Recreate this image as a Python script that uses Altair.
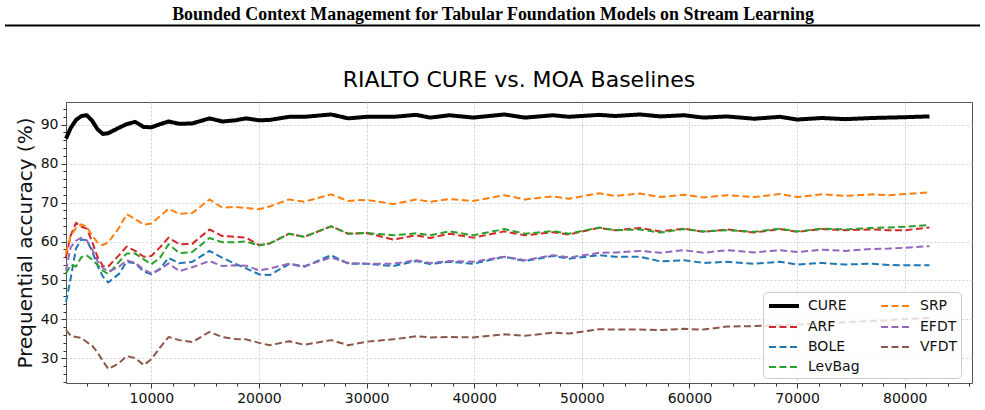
import altair as alt
import pandas as pd

# Stream position (number of instances processed)
steps = [2070, 2500, 3000, 3500, 4000, 4500, 5000, 5500, 6000, 7000,
         7700, 8500, 9300, 10000, 10800, 11600, 12600, 13800, 15400, 16600,
         17800, 18800, 20000, 21000, 22800, 24200, 26700, 28300, 30000, 32500,
         34600, 35900, 37700, 39900, 42800, 44700, 47300, 48800, 51600, 53100,
         55400, 57300, 59500, 61300, 63500, 66000, 68400, 70000, 72300, 74500,
         77000, 78500, 80000, 82300]

# Prequential accuracy (%) per learner
cure = [86.4, 89.1, 91.2, 92.2, 92.4, 91.0, 88.8, 87.6, 87.8, 89.2,
        90.1, 90.7, 89.4, 89.3, 90.1, 90.8, 90.2, 90.3, 91.6, 90.8,
        91.1, 91.6, 91.1, 91.2, 92.0, 92.0, 92.6, 91.6, 92.0, 92.0,
        92.5, 91.8, 92.4, 91.8, 92.6, 91.8, 92.4, 92.0, 92.5, 92.2,
        92.6, 92.1, 92.4, 91.8, 92.1, 91.5, 92.0, 91.3, 91.7, 91.4,
        91.7, 91.8, 91.9, 92.1]
srp = [57.0, 61.5, 63.5, 64.4, 63.8, 61.5, 59.8, 59.1, 59.8, 63.5,
       67.0, 65.8, 64.3, 64.6, 66.5, 68.4, 67.1, 67.3, 70.8, 68.7,
       68.9, 68.6, 68.3, 69.0, 70.8, 70.2, 72.1, 70.4, 70.7, 69.6,
       70.8, 70.2, 70.9, 70.4, 71.9, 70.8, 71.6, 71.0, 72.4, 71.7,
       72.3, 71.4, 72.0, 71.3, 71.9, 71.4, 72.2, 71.4, 72.1, 71.7,
       72.1, 71.9, 72.2, 72.6]
arf = [56.0, 61.5, 64.8, 63.8, 63.3, 60.0, 56.0, 53.7, 53.6, 56.5,
       58.7, 57.6, 56.1, 56.3, 58.5, 61.0, 59.3, 59.4, 63.1, 61.4,
       61.2, 61.0, 59.1, 59.5, 62.0, 61.2, 63.9, 62.0, 62.2, 60.5,
       61.6, 60.9, 62.0, 61.0, 62.6, 61.6, 62.4, 61.8, 63.5, 62.9,
       63.5, 62.6, 63.3, 62.5, 63.1, 62.3, 63.2, 62.5, 63.2, 62.9,
       63.1, 62.9, 62.9, 63.6]
levbag = [51.8, 54.0, 53.6, 56.0, 56.4, 55.4, 54.0, 52.5, 51.7, 54.8,
          56.9, 56.9, 55.4, 54.2, 55.8, 59.3, 57.0, 57.3, 60.9, 59.8,
          59.8, 60.0, 59.0, 59.5, 62.0, 61.2, 63.9, 62.0, 62.2, 61.6,
          62.1, 61.6, 62.6, 61.6, 63.2, 62.0, 62.7, 62.0, 63.6, 62.9,
          63.1, 62.3, 63.2, 62.6, 62.9, 62.5, 63.3, 62.6, 63.3, 63.1,
          63.5, 63.6, 63.8, 64.2]
bole = [44.5, 50.5, 58.2, 60.5, 60.3, 57.5, 53.8, 51.0, 49.5, 51.7,
        54.8, 54.4, 52.3, 51.6, 53.0, 55.8, 54.4, 54.8, 57.6, 55.8,
        54.3, 53.1, 51.6, 51.4, 54.2, 53.5, 56.5, 54.3, 54.3, 53.7,
        55.0, 54.2, 54.8, 54.3, 56.1, 55.0, 56.3, 55.6, 56.5, 56.1,
        56.1, 54.9, 55.2, 54.5, 54.8, 54.3, 54.8, 54.1, 54.5, 54.1,
        54.3, 54.0, 53.9, 53.9]
efdt = [52.6, 58.5, 60.2, 61.0, 60.3, 58.0, 55.0, 53.2, 52.3, 53.5,
        55.2, 54.5, 52.8, 51.8, 52.8, 54.4, 52.4, 53.4, 55.0, 53.7,
        53.9, 53.8, 52.6, 53.1, 54.3, 53.7, 55.9, 54.5, 54.3, 54.3,
        55.2, 54.5, 55.0, 54.8, 56.1, 55.2, 56.5, 55.9, 57.1, 57.2,
        57.6, 57.1, 57.8, 57.1, 57.8, 57.2, 57.8, 57.3, 57.9, 57.6,
        58.1, 58.2, 58.4, 58.8]
vfdt = [37.3, 35.8, 35.5, 35.3, 34.2, 33.3, 31.5, 29.3, 27.3, 28.8,
        30.6, 30.1, 28.3, 29.8, 32.8, 35.5, 34.7, 34.2, 36.8, 35.5,
        35.0, 34.9, 34.0, 33.4, 34.4, 33.5, 34.7, 33.4, 34.3, 34.9,
        35.7, 35.4, 35.5, 35.4, 36.2, 35.8, 36.6, 36.4, 37.5, 37.4,
        37.4, 37.3, 37.6, 37.4, 38.2, 38.3, 38.5, 38.7, 39.0, 39.3,
        39.6, 39.8, 40.1, 40.4]

models = ["CURE", "ARF", "BOLE", "LevBag", "SRP", "EFDT", "VFDT"]
series = {"CURE": cure, "ARF": arf, "BOLE": bole, "LevBag": levbag,
          "SRP": srp, "EFDT": efdt, "VFDT": vfdt}
colors = {"CURE": "#000000", "ARF": "#d62728", "BOLE": "#1f77b4",
          "LevBag": "#2ca02c", "SRP": "#ff7f0e", "EFDT": "#9467bd",
          "VFDT": "#8c564b"}
dash = [7, 3.5]

rows = []
for name in models:
    for s, v in zip(steps, series[name]):
        rows.append({"model": name, "step": s, "acc": v})
df = pd.DataFrame(rows)

header_text = "Bounded Context Management for Tabular Foundation Models on Stream Learning"
title_text = "RIALTO CURE vs. MOA Baselines"
text_df = pd.DataFrame({"header": [header_text], "title": [title_text]})

x_major = list(range(10000, 80001, 10000))
x_minor = [v for v in range(4000, 86001, 2000) if v % 10000 != 0]
y_major = list(range(30, 91, 10))
y_minor = [v for v in range(24, 96, 2) if v % 10 != 0]

x_scale = alt.Scale(domain=[2070, 86250], nice=False, zero=False)
y_scale = alt.Scale(domain=[23.7, 95.8], nice=False, zero=False)

# Legend handle: a 30px stroke drawn from a 16px layout symbol
legend = alt.Legend(
    title=None, orient="none", legendX=697, legendY=190, columns=2,
    symbolType="M-1,0H2.75", symbolSize=256, labelFontSize=14,
    labelFont="DejaVu Sans", labelColor="#111111", labelOffset=21,
    fillColor="rgba(255,255,255,0.8)", strokeColor="#cccccc",
    cornerRadius=4, padding=4, rowPadding=4, columnPadding=17, zindex=1,
)

lines = alt.Chart(df).mark_line(strokeJoin="round").encode(
    x=alt.X("step:Q", scale=x_scale,
            axis=alt.Axis(values=x_major, format="d", title=None, orient="bottom",
                          grid=True, gridDash=[2, 2], gridColor="#d0d0d0",
                          tickSize=5, tickColor="#333333", domain=False,
                          labelFontSize=14, labelPadding=3)),
    y=alt.Y("acc:Q", scale=y_scale,
            axis=alt.Axis(values=y_major, title="Prequential accuracy (%)",
                          orient="left", grid=True, gridDash=[2, 2],
                          gridColor="#d0d0d0", tickSize=5, tickColor="#333333",
                          domain=False, labelFontSize=14, labelPadding=3,
                          titleFontSize=20, titleFontWeight="normal",
                          titlePadding=5)),
    color=alt.Color("model:N", scale=alt.Scale(domain=models,
                    range=[colors[m] for m in models]), legend=legend),
    strokeDash=alt.StrokeDash("model:N", scale=alt.Scale(domain=models,
                              range=[[1, 0] if m == "CURE" else dash for m in models]),
                              legend=legend),
    strokeWidth=alt.StrokeWidth("model:N", scale=alt.Scale(type="ordinal", domain=models,
                                range=[4 if m == "CURE" else 2 for m in models]),
                                legend=legend),
)

# Minor ticks on the bottom and left axes
minor = alt.Chart(df).mark_point(opacity=0, size=1).encode(
    x=alt.X("step:Q", scale=x_scale,
            axis=alt.Axis(values=x_minor, labels=False, title=None, grid=False,
                          domain=False, tickSize=3, tickColor="#333333",
                          orient="bottom")),
    y=alt.Y("acc:Q", scale=y_scale,
            axis=alt.Axis(values=y_minor, labels=False, title=None, grid=False,
                          domain=False, tickSize=3, tickColor="#333333",
                          orient="left")),
)

# Page header above the figure
header = alt.Chart(text_df).mark_text(
    font="Liberation Serif", fontWeight="bold", fontSize=17.9, color="black",
    baseline="middle", align="center",
).encode(text="header:N", x=alt.value(427), y=alt.value(-87.5))

header_rule = alt.Chart(text_df).mark_rule(color="black", strokeWidth=2).encode(
    x=alt.value(-61), x2=alt.value(914), y=alt.value(-76.5)
)

# Figure title centred over the plot area
title = alt.Chart(text_df).mark_text(
    font="DejaVu Sans", fontSize=22, color="black",
    baseline="middle", align="center",
).encode(text="title:N", x=alt.value(453), y=alt.value(-22))

chart = alt.layer(lines, minor, header, header_rule, title).resolve_axis(
    x="independent", y="independent"
).properties(
    width=906, height=281,
    autosize=alt.AutoSizeParams(type="none"),
    padding={"left": 66, "top": 102, "right": 13, "bottom": 27},
    background="white",
).configure_view(
    stroke="#555555", strokeWidth=1
).configure_axis(
    labelFont="DejaVu Sans", titleFont="DejaVu Sans", labelColor="#111111",
    titleColor="#111111"
)

chart.save("out.html", embed_options={"renderer": "svg", "actions": False})
